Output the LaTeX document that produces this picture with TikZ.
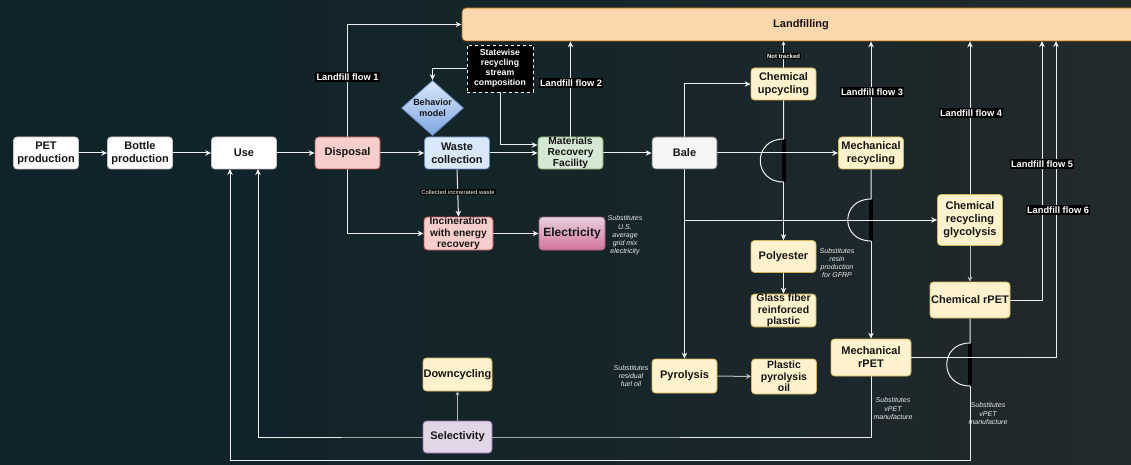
\documentclass[tikz,border=0pt]{standalone}
\usepackage{fontspec}
\setmainfont{Liberation Sans}
\usetikzlibrary{shapes.geometric,arrows.meta,calc}
\pgfdeclarelayer{back}
\pgfdeclarelayer{lines}
\pgfsetlayers{back,lines,main}
\definecolor{bgL}{HTML}{0F232B}
\definecolor{bgM}{HTML}{15252A}
\definecolor{bgR}{HTML}{222A2C}
\definecolor{lc}{HTML}{EEEEEE}
\definecolor{lg}{HTML}{B8B8B8}
\definecolor{yF}{HTML}{FFF2CC}\definecolor{yD}{HTML}{D6B656}
\definecolor{pF}{HTML}{F8CECC}\definecolor{pD}{HTML}{B85450}
\definecolor{bF}{HTML}{DAE8FC}\definecolor{bD}{HTML}{6C8EBF}\definecolor{bB}{HTML}{7EA6E0}
\definecolor{gF}{HTML}{D5E8D4}\definecolor{gD}{HTML}{82B366}
\definecolor{sF}{HTML}{F5F5F5}\definecolor{sD}{HTML}{666666}
\definecolor{uF}{HTML}{E1D5E7}\definecolor{uD}{HTML}{9673A6}
\definecolor{eT}{HTML}{E6D0DE}\definecolor{eB}{HTML}{D5739D}\definecolor{eD}{HTML}{996185}
\definecolor{lfF}{HTML}{FAD7AC}\definecolor{lfD}{HTML}{B46504}
\definecolor{txt}{HTML}{151515}
\begin{document}
\begin{tikzpicture}[x=1pt,y=-1pt,
  box/.style={rounded corners=3.5pt, draw, line width=0.8pt, align=center, inner sep=0pt,
    minimum width=65pt, minimum height=32pt, text=txt,
    font=\bfseries\fontsize{11}{13}\selectfont},
  smallbox/.style={box, font=\bfseries\fontsize{10.2}{11.3}\selectfont},
  wbox/.style={box, fill=white, draw=gray!45},
  ybox/.style={box, fill=yF, draw=yD},
  flowlbl/.style={fill=black, text=white, inner sep=1.3pt, font=\bfseries\fontsize{9.3}{10.5}\selectfont},
  tinylbl/.style={fill=black, text=white, inner sep=1pt, font=\fontsize{6}{7}\selectfont},
  note/.style={text=white!92!black, align=center, inner sep=0pt, font=\itshape\fontsize{7}{8.2}\selectfont},
  ln/.style={draw=lc, line width=1pt},
  arr/.style={ln, -{Stealth[length=6pt,width=5.5pt]}},
  garr/.style={draw=lg, line width=1pt, -{Stealth[length=5pt,width=5pt]}},
  bar/.style={fill=black}
]
\begin{pgfonlayer}{back}
\shade[left color=bgL, right color=bgR, middle color=bgM] (0,0) rectangle (1131,465);
\end{pgfonlayer}
\useasboundingbox (0,0) rectangle (1131,465);

% nodes
\node[rounded corners=4pt, draw=lfD, fill=lfF, line width=0.8pt, minimum width=678pt, minimum height=33pt, inner sep=0pt, text=txt, font=\bfseries\fontsize{11}{13}\selectfont] (landfill) at (801,24.5) {Landfilling};
\node[wbox] (pet) at (46,153) {PET\\production};
\node[wbox] (bottle) at (140,153) {Bottle\\production};
\node[wbox] (use) at (244,153) {Use};
\node[box, fill=pF, draw=pD] (disp) at (347.5,153) {Disposal};
\node[box, fill=bF, draw=bD] (waste) at (457,153) {Waste\\collection};
\node[diamond, draw=bD, top color=bF, bottom color=bB, line width=0.8pt, minimum width=62pt, minimum height=55pt, aspect=1.13, inner sep=0pt, align=center, text=txt, font=\bfseries\fontsize{9}{11}\selectfont] (beh) at (432.5,108) {Behavior\\model};
\node[draw=white, dashed, fill=black, line width=0.8pt, minimum width=66pt, minimum height=47pt, inner sep=0pt, align=center, text=white, font=\bfseries\fontsize{8.7}{10}\selectfont] (state) at (500,68.5) {Statewise\\recycling\\stream\\composition};
\node[smallbox, fill=gF, draw=gD] (mrf) at (570.5,153) {Materials\\Recovery\\Facility};
\node[box, fill=sF, draw=sD] (bale) at (684.5,153) {Bale};
\node[ybox] (cu) at (783.5,84) {Chemical\\upcycling};
\node[ybox] (mr) at (871,153) {Mechanical\\recycling};
\node[ybox, minimum height=51pt] (crg) at (970,220) {Chemical\\recycling\\glycolysis};
\node[ybox, minimum width=80pt, minimum height=36pt] (crpet) at (970,300) {Chemical rPET};
\node[ybox] (poly) at (783.5,256.5) {Polyester};
\node[ybox, font=\bfseries\fontsize{10.5}{11.5}\selectfont] (gfrp) at (783.5,310.5) {Glass fiber\\reinforced\\plastic};
\node[ybox, minimum width=80pt, minimum height=37pt] (mrpet) at (871,357.5) {Mechanical\\rPET};
\node[ybox, font=\bfseries\fontsize{10.5}{11.5}\selectfont, minimum height=35pt] (ppo) at (784,376.5) {Plastic\\pyrolysis\\oil};
\node[ybox, minimum height=34pt] (pyr) at (684.5,376) {Pyrolysis};
\node[ybox, minimum width=69pt, minimum height=33pt] (down) at (457.5,374.5) {Downcycling};
\node[box, fill=uF, draw=uD, minimum width=69pt] (sel) at (457.5,437) {Selectivity};
\node[smallbox, fill=pF, draw=pD, minimum width=69pt, minimum height=33pt] (incin) at (458.5,233.5) {Incineration\\with energy\\recovery};
\node[box, draw=eD, top color=eT, bottom color=eB, minimum width=66pt, minimum height=33pt, font=\bfseries\fontsize{12}{14}\selectfont] (elec) at (572,233.5) {Electricity};

% notes
\node[note] (n1) at (625,235.5) {Substitutes\\U.S.\\average\\grid mix\\electricity};
\node[note] (n2) at (837,263) {Substitutes\\resin\\production\\for GFRP};
\node[note] (n3) at (631,376) {Substitutes\\residual\\fuel oil};
\node[note] (n4) at (893,408.5) {Substitutes\\vPET\\manufacture};
\node[note] (n5) at (988,413.5) {Substitutes\\vPET\\manufacture};

% coordinates
\coordinate (h1t) at (783.5,139); \coordinate (h1b) at (783.5,182);
\coordinate (h2t) at (871,199);   \coordinate (h2b) at (871,241);
\coordinate (h3t) at (970,343);   \coordinate (h3b) at (970,386);
\coordinate (bb) at (684.5,220);
\coordinate (f5) at (1042,41);
\coordinate (f6) at (1056,41);
\coordinate (b3) at (970,460);
\coordinate (u1) at (230,169);
\coordinate (u2) at (258,169);

\begin{pgfonlayer}{lines}
% hop bars
\fill[bar] ($(h1t)+(-2,0)$) rectangle ($(h1b)+(2,0)$);
\fill[bar] ($(h2t)+(-2,0)$) rectangle ($(h2b)+(2,0)$);
\fill[bar] ($(h3t)+(-2,0)$) rectangle ($(h3b)+(2,0)$);
% main chain
\draw[arr] (pet) -- (bottle);
\draw[arr] (bottle) -- (use);
\draw[arr] (use) -- (disp);
\draw[arr] (disp) -- (waste);
\draw[arr] (waste) -- (mrf);
\draw[arr] (mrf) -- (bale);
\draw[arr] (bale) -- (mr);
% landfill flows
\draw[arr] (disp.north) |- (landfill.west);
\draw[arr] (mrf.north) -- (mrf.north |- landfill.south);
\draw[ln, -{Stealth[length=4pt,width=4pt]}] (cu.north) -- (cu.north |- landfill.south);
\draw[arr] (mr.north) -- (mr.north |- landfill.south);
\draw[arr] (crg.north) -- (crg.north |- landfill.south);
\draw[arr] (crpet.east) -| (f5);
\draw[arr] (mrpet.east) -| (f6);
% incineration
\draw[arr] (disp.south) |- (incin.west);
\draw[arr] (waste.south) -- (incin.north);
\draw[arr] (incin) -- (elec);
% statewise
\draw[arr] (state.west) -| (beh.north);
\draw[arr] (state.south) |- ([yshift=8pt]mrf.west);
% bale branches
\draw[arr] (bale.north) |- (cu.west);
\draw[arr] (bale.south) -- (pyr.north);
\draw[arr] (bb) -- (crg.west);
\draw[garr] (pyr) -- (ppo);
% hops
\draw[ln] (cu.south) -- (h1t) .. controls +(-31,0) and +(-31,0) .. (h1b);
\draw[arr] (h1b) -- (poly.north);
\draw[arr] (poly) -- (gfrp);
\draw[ln] (mr.south) -- (h2t) .. controls +(-31,0) and +(-31,0) .. (h2b);
\draw[arr] (h2b) -- (mrpet.north);
\draw[garr] (crg) -- (crpet);
\draw[ln] (crpet.south) -- (h3t) .. controls +(-31,0) and +(-31,0) .. (h3b);
\draw[arr] (h3b) -- (b3) -| (u1);
\draw[arr] (mrpet.south) |- (sel.east) -- (sel.west) -| (u2);
\draw[draw=lg, line width=0.8pt, -{Stealth[length=4pt,width=4pt]}] (sel) -- (down);
% labels on lines
\node[flowlbl] (lf1) at (347.5,77) {Landfill flow 1};
\node[flowlbl] (lf2) at (571,83) {Landfill flow 2};
\node[flowlbl] (lf3) at (872,92) {Landfill flow 3};
\node[flowlbl] (lf4) at (971,113) {Landfill flow 4};
\node[flowlbl] (lf5) at (1042,164) {Landfill flow 5};
\node[flowlbl] (lf6) at (1058,210) {Landfill flow 6};
\node[tinylbl] (nt) at (783.5,56) {\bfseries Not tracked};
\node[tinylbl] (ciw) at (458,192) {Collected incinerated waste};
\end{pgfonlayer}
\end{tikzpicture}
\end{document}
